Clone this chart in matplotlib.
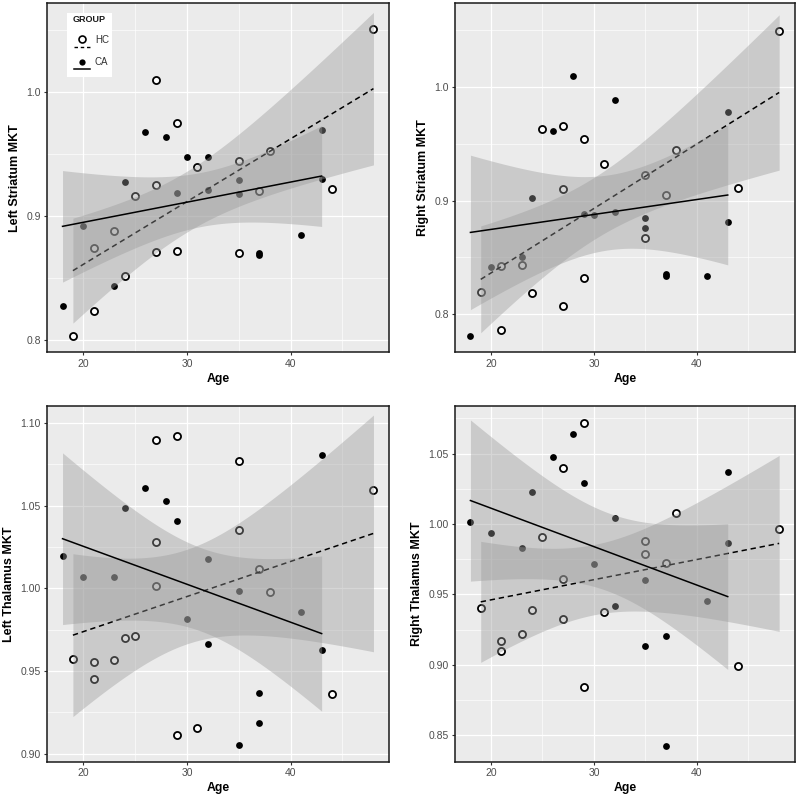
import numpy as np
import matplotlib
matplotlib.use("Agg")
import matplotlib.pyplot as plt
from matplotlib.lines import Line2D

plt.rcParams['font.family'] = ['Liberation Sans', 'DejaVu Sans']

# Left Striatum MKT
ls_hc_age = [19, 21, 21, 23, 24, 25, 27, 27, 27, 29, 29, 31, 35, 35, 37, 38, 44, 48]
ls_hc_val = [0.803, 0.8745, 0.8231, 0.8882, 0.8516, 0.9164, 1.0099, 0.9253, 0.8712,
             0.975, 0.8715, 0.9392, 0.9444, 0.8702, 0.9202, 0.9527, 0.9215, 1.0505]
ls_ca_age = [18, 20, 23, 24, 26, 28, 29, 30, 32, 32, 35, 35, 37, 37, 41, 43, 43]
ls_ca_val = [0.8277, 0.8917, 0.8435, 0.9277, 0.9677, 0.964, 0.9188, 0.9476, 0.9479,
             0.9207, 0.929, 0.9175, 0.8700, 0.8688, 0.8844, 0.9691, 0.9301]

# Right Striatum MKT
rs_hc_age = [19, 21, 21, 23, 24, 25, 27, 27, 27, 29, 29, 31, 35, 35, 37, 38, 44, 48]
rs_hc_val = [0.8194, 0.8425, 0.7865, 0.8434, 0.8191, 0.9628, 0.966, 0.9106, 0.8073,
             0.9543, 0.8317, 0.932, 0.9223, 0.8674, 0.9053, 0.9449, 0.9108, 1.0493]
rs_ca_age = [18, 20, 23, 24, 26, 28, 29, 30, 32, 32, 35, 35, 37, 37, 41, 43, 43]
rs_ca_val = [0.7807, 0.8416, 0.8504, 0.9023, 0.961, 1.01, 0.888, 0.8873, 0.9889,
             0.8897, 0.885, 0.876, 0.8355, 0.8334, 0.8337, 0.9783, 0.8815]

# Left Thalamus MKT
lt_hc_age = [19, 21, 21, 23, 24, 25, 27, 27, 27, 29, 29, 31, 35, 35, 37, 38, 44, 48]
lt_hc_val = [0.957, 0.9556, 0.9451, 0.9564, 0.9702, 0.971, 1.0899, 1.0282, 1.0016,
             1.0919, 0.9115, 0.9153, 1.077, 1.0355, 1.0115, 0.9976, 0.936, 1.0595]
lt_ca_age = [18, 20, 23, 24, 26, 28, 29, 30, 32, 32, 35, 35, 37, 37, 41, 43, 43]
lt_ca_val = [1.0196, 1.0071, 1.0067, 1.0486, 1.0607, 1.053, 1.0409, 0.9815, 1.0177,
             0.9663, 0.9984, 0.905, 0.9367, 0.9185, 0.9855, 1.0806, 0.9629]

# Right Thalamus MKT
rt_hc_age = [19, 21, 21, 23, 24, 25, 27, 27, 27, 29, 29, 31, 35, 35, 37, 38, 44, 48]
rt_hc_val = [0.9405, 0.9172, 0.9096, 0.922, 0.9393, 0.9908, 1.0401, 0.9609, 0.9324,
             1.0718, 0.8841, 0.9373, 0.9877, 0.9787, 0.9725, 1.008, 0.8992, 0.9967]
rt_ca_age = [18, 20, 23, 24, 26, 28, 29, 30, 32, 32, 35, 35, 37, 37, 41, 43, 43]
rt_ca_val = [1.0012, 0.9934, 0.9827, 1.023, 1.0474, 1.0637, 1.0292, 0.9718, 1.0043,
             0.9418, 0.9605, 0.9132, 0.9208, 0.8427, 0.9453, 1.0372, 0.9863]

# 97.5% t quantiles for df = n - 2
T_QUANT = {15: 2.1314, 16: 2.1199}

BG = "#EBEBEB"
TXT = "#4D4D4D"


def lm_band(x, y):
    x = np.asarray(x, float)
    y = np.asarray(y, float)
    n = len(x)
    b, a = np.polyfit(x, y, 1)
    resid = y - (a + b * x)
    s = np.sqrt(np.sum(resid ** 2) / (n - 2))
    sxx = np.sum((x - x.mean()) ** 2)
    xs = np.linspace(x.min(), x.max(), 80)
    fit = a + b * xs
    se = s * np.sqrt(1 / n + (xs - x.mean()) ** 2 / sxx)
    t = T_QUANT[n - 2]
    return xs, fit, fit - t * se, fit + t * se


def draw_panel(ax, hc_age, hc_val, ca_age, ca_val, ylabel, ylim, yticks, yfmt):
    ax.set_facecolor(BG)
    ax.scatter(ca_age, ca_val, s=24, color="black", zorder=2, linewidths=0)
    ax.scatter(hc_age, hc_val, s=26, facecolor="white", edgecolor="black",
               linewidths=1.3, zorder=2)

    xs, fit, lo, hi = lm_band(hc_age, hc_val)
    ax.fill_between(xs, lo, hi, color="#999999", alpha=0.4, linewidth=0, zorder=3)
    ax.plot(xs, fit, color="black", lw=1.1, ls=(0, (3.5, 2.5)), zorder=4)
    xs, fit, lo, hi = lm_band(ca_age, ca_val)
    ax.fill_between(xs, lo, hi, color="#999999", alpha=0.4, linewidth=0, zorder=5)
    ax.plot(xs, fit, color="black", lw=1.1, zorder=6)

    ax.set_xticks([20, 30, 40])
    ax.set_xticks([15, 25, 35, 45], minor=True)
    ax.set_yticks(yticks)
    ax.set_yticklabels([yfmt.format(v) for v in yticks])
    step = yticks[1] - yticks[0]
    ax.set_yticks([v + step / 2 for v in [yticks[0] - step] + list(yticks)], minor=True)
    ax.set_xlim(16.5, 49.5)
    ax.set_ylim(*ylim)
    ax.set_axisbelow(True)
    ax.grid(True, which="major", color="white", lw=0.9)
    ax.grid(True, which="minor", color="white", lw=0.45)
    ax.tick_params(which="major", length=2.5, width=0.8, color="#333333",
                   labelsize=7.5, labelcolor=TXT, pad=2)
    ax.tick_params(which="minor", length=0)
    for sp in ax.spines.values():
        sp.set_color("#1A1A1A")
        sp.set_linewidth(1.1)
    ax.set_xlabel("Age", fontsize=8.8, fontweight="bold", labelpad=3)
    ax.set_ylabel(ylabel, fontsize=9, fontweight="bold", labelpad=4)


fig = plt.figure(figsize=(8, 8), dpi=100)
ax1 = fig.add_axes([0.05875, 0.5594, 0.4275, 0.4369])
ax2 = fig.add_axes([0.56875, 0.5594, 0.4245, 0.4369])
ax3 = fig.add_axes([0.05875, 0.0475, 0.4275, 0.4444])
ax4 = fig.add_axes([0.56875, 0.0475, 0.4245, 0.4444])

draw_panel(ax1, ls_hc_age, ls_hc_val, ls_ca_age, ls_ca_val, "Left Striatum MKT",
           (0.7899, 1.0718), [0.8, 0.9, 1.0], "{:.1f}")
draw_panel(ax2, rs_hc_age, rs_hc_val, rs_ca_age, rs_ca_val, "Right Striatum MKT",
           (0.7664, 1.0739), [0.8, 0.9, 1.0], "{:.1f}")
draw_panel(ax3, lt_hc_age, lt_hc_val, lt_ca_age, lt_ca_val, "Left Thalamus MKT",
           (0.895, 1.110), [0.90, 0.95, 1.00, 1.05, 1.10], "{:.2f}")
draw_panel(ax4, rt_hc_age, rt_hc_val, rt_ca_age, rt_ca_val, "Right Thalamus MKT",
           (0.831, 1.0835), [0.85, 0.90, 0.95, 1.00, 1.05], "{:.2f}")

# legend box drawn by hand, inside the first panel
leg = ax1.inset_axes([0.0576, 0.788, 0.1333, 0.184])
leg.set_xlim(0, 45.6)
leg.set_ylim(64.3, 0)
leg.set_facecolor("white")
leg.set_xticks([])
leg.set_yticks([])
for sp in leg.spines.values():
    sp.set_visible(False)
leg.set_zorder(10)
leg.text(5.6, 6.3, "GROUP", fontsize=6.5, fontweight="bold", color="#1A1A1A",
         va="center", ha="left")
leg.add_line(Line2D([7, 23.3], [34, 34], color="black", lw=1.0, ls=(0, (2.5, 2))))
leg.plot([15.6], [26.6], marker="o", ms=5, mfc="white", mec="black", mew=1.2)
leg.text(28.3, 27.3, "HC", fontsize=7, color="#333333", va="center", ha="left")
leg.add_line(Line2D([7, 23.3], [56.3, 56.3], color="black", lw=1.1))
leg.plot([15.6], [49], marker="o", ms=4.5, mfc="black", mec="black", mew=0)
leg.text(28.3, 49.3, "CA", fontsize=7, color="#333333", va="center", ha="left")

fig.savefig("out.png", dpi=100, facecolor="white")
